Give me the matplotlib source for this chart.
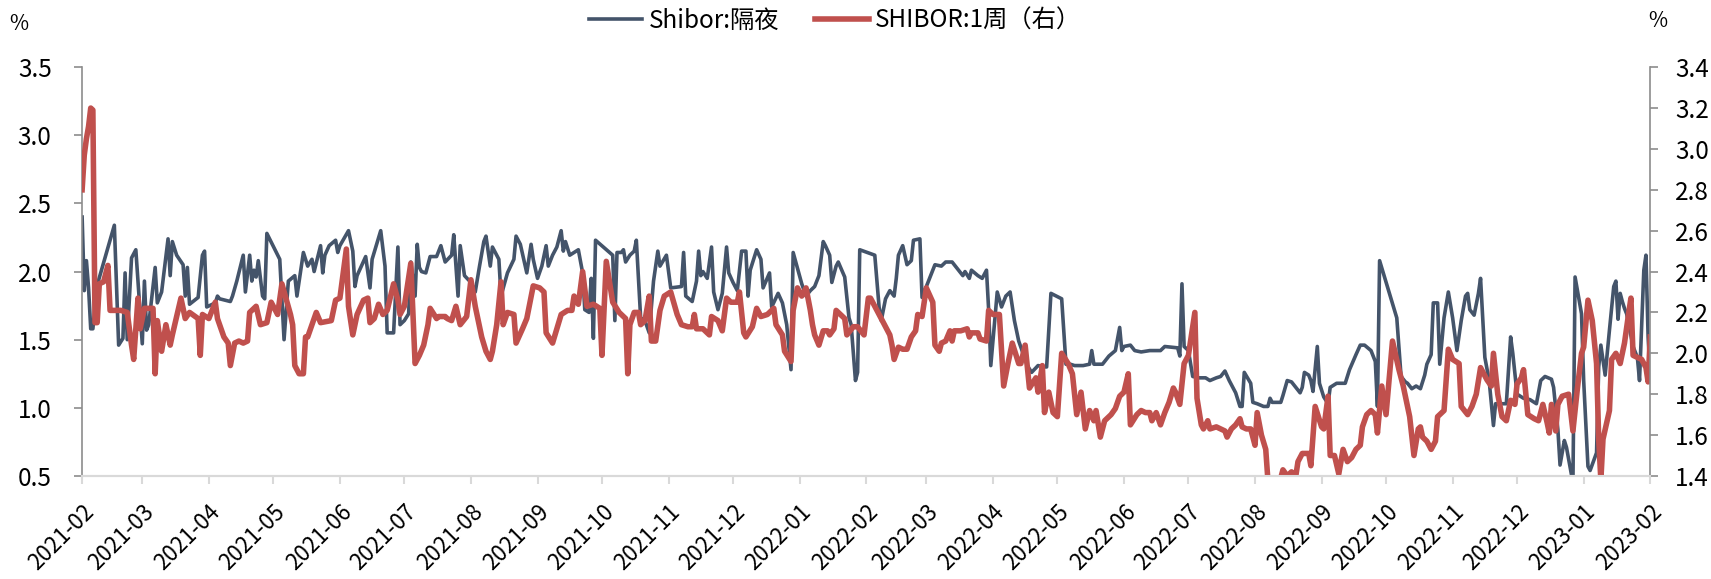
import matplotlib
matplotlib.use('Agg')
import matplotlib.pyplot as plt
import matplotlib.dates as mdates
import matplotlib.transforms as mtransforms
import pandas as pd

plt.rcParams['font.family'] = ['Noto Sans CJK SC', 'DejaVu Sans']

# Shibor overnight (left axis), %
on_dates = [
    '2021-02-01', '2021-02-02', '2021-02-03', '2021-02-04', '2021-02-05', '2021-02-06', '2021-02-08', '2021-02-16', '2021-02-18', '2021-02-20', '2021-02-21', '2021-02-22', '2021-02-24', '2021-02-26',
    '2021-03-01', '2021-03-02', '2021-03-03', '2021-03-04', '2021-03-07', '2021-03-08', '2021-03-10', '2021-03-13', '2021-03-14', '2021-03-15', '2021-03-17', '2021-03-20', '2021-03-21', '2021-03-22', '2021-03-23', '2021-03-27', '2021-03-29', '2021-03-30', '2021-03-31',
    '2021-04-04', '2021-04-05', '2021-04-06', '2021-04-11', '2021-04-12', '2021-04-14', '2021-04-17', '2021-04-18', '2021-04-20', '2021-04-21', '2021-04-22', '2021-04-23', '2021-04-24', '2021-04-26', '2021-04-27', '2021-04-28',
    '2021-05-04', '2021-05-06', '2021-05-08', '2021-05-11', '2021-05-12', '2021-05-15', '2021-05-17', '2021-05-19', '2021-05-20', '2021-05-23', '2021-05-24', '2021-05-25', '2021-05-27', '2021-05-30', '2021-05-31',
    '2021-06-01', '2021-06-05', '2021-06-07', '2021-06-08', '2021-06-09', '2021-06-13', '2021-06-15', '2021-06-16', '2021-06-20', '2021-06-22', '2021-06-23', '2021-06-26', '2021-06-28', '2021-06-29',
    '2021-07-01', '2021-07-03', '2021-07-04', '2021-07-06', '2021-07-07', '2021-07-08', '2021-07-09', '2021-07-11', '2021-07-13', '2021-07-16', '2021-07-18', '2021-07-20', '2021-07-23', '2021-07-24', '2021-07-26', '2021-07-27', '2021-07-29',
    '2021-08-01', '2021-08-03', '2021-08-05', '2021-08-07', '2021-08-08', '2021-08-10', '2021-08-11', '2021-08-14', '2021-08-15', '2021-08-18', '2021-08-21', '2021-08-22', '2021-08-24', '2021-08-27', '2021-08-29', '2021-08-30',
    '2021-09-01', '2021-09-03', '2021-09-05', '2021-09-06', '2021-09-08', '2021-09-10', '2021-09-12', '2021-09-13', '2021-09-14', '2021-09-16', '2021-09-20', '2021-09-22', '2021-09-23', '2021-09-25', '2021-09-26', '2021-09-27', '2021-09-28',
    '2021-10-06', '2021-10-07', '2021-10-08', '2021-10-10', '2021-10-11', '2021-10-12', '2021-10-14', '2021-10-16', '2021-10-17', '2021-10-19', '2021-10-21', '2021-10-23', '2021-10-25', '2021-10-27', '2021-10-28', '2021-10-31',
    '2021-11-02', '2021-11-07', '2021-11-08', '2021-11-09', '2021-11-12', '2021-11-14', '2021-11-15', '2021-11-16', '2021-11-17', '2021-11-19', '2021-11-21', '2021-11-22', '2021-11-24', '2021-11-26', '2021-11-28', '2021-11-29',
    '2021-12-01', '2021-12-03', '2021-12-05', '2021-12-07', '2021-12-08', '2021-12-09', '2021-12-12', '2021-12-14', '2021-12-15', '2021-12-18', '2021-12-19', '2021-12-22', '2021-12-24', '2021-12-26', '2021-12-28', '2021-12-29',
    '2022-01-02', '2022-01-04', '2022-01-06', '2022-01-08', '2022-01-10', '2022-01-12', '2022-01-13', '2022-01-15', '2022-01-16', '2022-01-18', '2022-01-19', '2022-01-22', '2022-01-24', '2022-01-25', '2022-01-27', '2022-01-28', '2022-01-29',
    '2022-02-05', '2022-02-07', '2022-02-08', '2022-02-10', '2022-02-12', '2022-02-14', '2022-02-15', '2022-02-16', '2022-02-18', '2022-02-20', '2022-02-22', '2022-02-23', '2022-02-26', '2022-02-27',
    '2022-03-01', '2022-03-05', '2022-03-08', '2022-03-10', '2022-03-13', '2022-03-16', '2022-03-18', '2022-03-19', '2022-03-21', '2022-03-22', '2022-03-25', '2022-03-27', '2022-03-29', '2022-03-30', '2022-03-31',
    '2022-04-01', '2022-04-03', '2022-04-05', '2022-04-07', '2022-04-09', '2022-04-11', '2022-04-13', '2022-04-17', '2022-04-19', '2022-04-22', '2022-04-25', '2022-04-26', '2022-04-28',
    '2022-05-03', '2022-05-05', '2022-05-07', '2022-05-09', '2022-05-13', '2022-05-16', '2022-05-17', '2022-05-18', '2022-05-22', '2022-05-25', '2022-05-28', '2022-05-30', '2022-05-31',
    '2022-06-01', '2022-06-04', '2022-06-06', '2022-06-09', '2022-06-13', '2022-06-18', '2022-06-20', '2022-06-26', '2022-06-27', '2022-06-28', '2022-06-29',
    '2022-07-01', '2022-07-03', '2022-07-06', '2022-07-09', '2022-07-11', '2022-07-14', '2022-07-16', '2022-07-18', '2022-07-20', '2022-07-23', '2022-07-25', '2022-07-26', '2022-07-27', '2022-07-30', '2022-07-31',
    '2022-08-02', '2022-08-05', '2022-08-07', '2022-08-08', '2022-08-09', '2022-08-13', '2022-08-14', '2022-08-16', '2022-08-18', '2022-08-20', '2022-08-22', '2022-08-23', '2022-08-24', '2022-08-26', '2022-08-27', '2022-08-28', '2022-08-30', '2022-08-31',
    '2022-09-02', '2022-09-04', '2022-09-05', '2022-09-08', '2022-09-10', '2022-09-12', '2022-09-14', '2022-09-17', '2022-09-19', '2022-09-21', '2022-09-24', '2022-09-26', '2022-09-27', '2022-09-28',
    '2022-10-06', '2022-10-08', '2022-10-10', '2022-10-11', '2022-10-13', '2022-10-15', '2022-10-17', '2022-10-19', '2022-10-20', '2022-10-22', '2022-10-23', '2022-10-25', '2022-10-26', '2022-10-28', '2022-10-30',
    '2022-11-01', '2022-11-03', '2022-11-05', '2022-11-07', '2022-11-08', '2022-11-09', '2022-11-11', '2022-11-13', '2022-11-14', '2022-11-16', '2022-11-18', '2022-11-20', '2022-11-21', '2022-11-26', '2022-11-28', '2022-11-29',
    '2022-12-01', '2022-12-04', '2022-12-07', '2022-12-10', '2022-12-12', '2022-12-14', '2022-12-17', '2022-12-18', '2022-12-20', '2022-12-21', '2022-12-23', '2022-12-24', '2022-12-27', '2022-12-28', '2022-12-31',
    '2023-01-01', '2023-01-03', '2023-01-04', '2023-01-07', '2023-01-08', '2023-01-09', '2023-01-11', '2023-01-13', '2023-01-15', '2023-01-16', '2023-01-17', '2023-01-18', '2023-01-19', '2023-01-20', '2023-01-21', '2023-01-24', '2023-01-26', '2023-01-27', '2023-01-29', '2023-01-30', '2023-01-31', '2023-02-01',
]
on_rate = [
    2.40, 1.86, 2.08, 1.88, 1.58, 1.58, 1.90, 2.34, 1.46, 1.51, 1.99, 1.50, 2.10, 2.16,
    1.47, 1.93, 1.57, 1.61, 2.03, 1.77, 1.85, 2.24, 1.97, 2.22, 2.12, 2.05, 1.82, 2.03, 1.76, 1.81, 2.12, 2.15, 1.74,
    1.77, 1.82, 1.80, 1.78, 1.82, 1.93, 2.12, 1.85, 2.12, 1.93, 2.01, 1.96, 2.08, 1.82, 1.80, 2.28,
    2.09, 1.50, 1.93, 1.97, 1.82, 2.14, 2.04, 2.09, 2.00, 2.19, 1.99, 2.12, 2.19, 2.23, 2.14,
    2.19, 2.30, 2.15, 1.89, 1.97, 2.11, 1.88, 2.09, 2.30, 2.04, 1.55, 1.55, 2.18, 1.61,
    1.64, 1.69, 2.07, 1.82, 2.20, 2.03, 2.00, 1.99, 2.11, 2.11, 2.19, 2.07, 2.12, 2.27, 1.82, 2.19, 1.97,
    1.92, 1.85, 2.04, 2.22, 2.26, 2.04, 2.18, 2.09, 1.82, 1.99, 2.09, 2.26, 2.20, 1.99, 2.20, 2.09,
    1.95, 2.04, 2.19, 2.04, 2.12, 2.18, 2.30, 2.15, 2.22, 2.12, 2.16, 1.99, 1.72, 1.70, 1.95, 1.51, 2.23,
    2.12, 1.64, 2.14, 2.14, 2.16, 2.07, 2.12, 2.15, 2.23, 1.66, 1.64, 1.55, 1.93, 2.15, 2.04, 2.12,
    1.88, 1.89, 2.14, 1.82, 1.78, 1.93, 2.15, 1.97, 2.00, 1.95, 2.18, 1.85, 1.72, 1.84, 2.18, 1.99,
    1.92, 1.86, 2.15, 2.15, 1.82, 2.01, 2.16, 2.09, 1.88, 1.99, 1.74, 1.84, 1.77, 1.61, 1.28, 2.14,
    1.91, 1.82, 1.86, 1.89, 1.97, 2.22, 2.19, 2.12, 1.92, 2.04, 2.07, 1.96, 1.66, 1.61, 1.20, 1.26, 2.16,
    2.12, 1.74, 1.64, 1.80, 1.86, 1.82, 1.95, 2.12, 2.19, 2.05, 2.08, 2.23, 2.24, 1.81,
    1.89, 2.05, 2.04, 2.07, 2.07, 2.01, 1.97, 2.00, 1.95, 2.01, 1.97, 1.95, 2.01, 1.72, 1.31,
    1.49, 1.85, 1.74, 1.82, 1.85, 1.64, 1.49, 1.31, 1.26, 1.31, 1.30, 1.30, 1.84,
    1.80, 1.32, 1.32, 1.31, 1.31, 1.32, 1.42, 1.32, 1.32, 1.38, 1.42, 1.59, 1.42,
    1.45, 1.46, 1.42, 1.41, 1.42, 1.42, 1.45, 1.44, 1.38, 1.91, 1.45,
    1.42, 1.23, 1.22, 1.22, 1.20, 1.22, 1.23, 1.27, 1.20, 1.11, 1.01, 1.01, 1.26, 1.18, 1.04,
    1.03, 1.01, 1.01, 1.07, 1.04, 1.04, 1.09, 1.20, 1.19, 1.15, 1.11, 1.15, 1.26, 1.24, 1.20, 1.12, 1.45, 1.18,
    1.08, 1.03, 1.15, 1.18, 1.18, 1.18, 1.28, 1.39, 1.46, 1.46, 1.42, 1.34, 1.01, 2.08,
    1.66, 1.23, 1.19, 1.18, 1.14, 1.16, 1.14, 1.24, 1.32, 1.39, 1.77, 1.77, 1.32, 1.66, 1.85,
    1.66, 1.42, 1.64, 1.82, 1.84, 1.72, 1.68, 1.84, 1.95, 1.37, 1.20, 0.87, 1.03, 1.03, 1.52, 1.40,
    1.10, 1.07, 1.06, 1.03, 1.20, 1.23, 1.21, 1.15, 0.84, 0.58, 0.76, 0.71, 0.45, 1.96, 1.69,
    1.20, 0.57, 0.54, 0.67, 1.30, 1.46, 1.24, 1.57, 1.89, 1.93, 1.65, 1.84, 1.78, 1.73, 1.69, 1.45, 1.37, 1.20, 2.01, 2.12, 1.52, 1.22,
]

# SHIBOR 1 week (right axis), %
w1_dates = [
    '2021-02-01', '2021-02-02', '2021-02-03', '2021-02-04', '2021-02-05', '2021-02-06', '2021-02-07', '2021-02-08', '2021-02-09', '2021-02-11', '2021-02-13', '2021-02-14', '2021-02-19', '2021-02-22', '2021-02-24', '2021-02-25', '2021-02-27', '2021-02-28',
    '2021-03-02', '2021-03-05', '2021-03-06', '2021-03-07', '2021-03-08', '2021-03-10', '2021-03-12', '2021-03-14', '2021-03-15', '2021-03-19', '2021-03-21', '2021-03-23', '2021-03-27', '2021-03-28', '2021-03-29',
    '2021-04-01', '2021-04-04', '2021-04-05', '2021-04-08', '2021-04-10', '2021-04-11', '2021-04-13', '2021-04-15', '2021-04-17', '2021-04-19', '2021-04-20', '2021-04-23', '2021-04-25', '2021-04-28', '2021-04-30',
    '2021-05-03', '2021-05-05', '2021-05-09', '2021-05-10', '2021-05-11', '2021-05-13', '2021-05-15', '2021-05-16', '2021-05-17', '2021-05-19', '2021-05-21', '2021-05-23', '2021-05-28', '2021-05-30',
    '2021-06-01', '2021-06-04', '2021-06-05', '2021-06-07', '2021-06-09', '2021-06-12', '2021-06-14', '2021-06-15', '2021-06-17', '2021-06-19', '2021-06-21', '2021-06-23', '2021-06-26', '2021-06-28', '2021-06-29',
    '2021-07-01', '2021-07-04', '2021-07-06', '2021-07-08', '2021-07-10', '2021-07-12', '2021-07-13', '2021-07-16', '2021-07-17', '2021-07-20', '2021-07-21', '2021-07-23', '2021-07-25', '2021-07-27', '2021-07-30',
    '2021-08-01', '2021-08-03', '2021-08-06', '2021-08-08', '2021-08-10', '2021-08-11', '2021-08-13', '2021-08-15', '2021-08-16', '2021-08-18', '2021-08-21', '2021-08-22', '2021-08-25', '2021-08-27', '2021-08-30',
    '2021-09-02', '2021-09-04', '2021-09-05', '2021-09-08', '2021-09-10', '2021-09-12', '2021-09-15', '2021-09-17', '2021-09-18', '2021-09-20', '2021-09-22', '2021-09-24', '2021-09-27', '2021-09-30',
    '2021-10-01', '2021-10-03', '2021-10-06', '2021-10-09', '2021-10-12', '2021-10-13', '2021-10-14', '2021-10-16', '2021-10-18', '2021-10-19', '2021-10-21', '2021-10-23', '2021-10-24', '2021-10-26', '2021-10-28', '2021-10-30',
    '2021-11-02', '2021-11-05', '2021-11-07', '2021-11-10', '2021-11-12', '2021-11-13', '2021-11-14', '2021-11-17', '2021-11-19', '2021-11-20', '2021-11-21', '2021-11-24', '2021-11-26', '2021-11-28', '2021-11-30',
    '2021-12-03', '2021-12-04', '2021-12-06', '2021-12-07', '2021-12-10', '2021-12-12', '2021-12-14', '2021-12-17', '2021-12-20', '2021-12-21', '2021-12-24', '2021-12-25', '2021-12-28', '2021-12-29', '2021-12-31',
    '2022-01-02', '2022-01-04', '2022-01-06', '2022-01-07', '2022-01-08', '2022-01-10', '2022-01-12', '2022-01-14', '2022-01-15', '2022-01-17', '2022-01-18', '2022-01-19', '2022-01-22', '2022-01-23', '2022-01-26', '2022-01-28', '2022-01-31',
    '2022-02-02', '2022-02-03', '2022-02-07', '2022-02-09', '2022-02-12', '2022-02-13', '2022-02-14', '2022-02-16', '2022-02-18', '2022-02-20', '2022-02-22', '2022-02-24', '2022-02-25', '2022-02-27',
    '2022-03-01', '2022-03-04', '2022-03-05', '2022-03-07', '2022-03-08', '2022-03-10', '2022-03-12', '2022-03-13', '2022-03-14', '2022-03-17', '2022-03-20', '2022-03-21', '2022-03-22', '2022-03-25', '2022-03-26', '2022-03-29', '2022-03-30',
    '2022-04-01', '2022-04-04', '2022-04-06', '2022-04-08', '2022-04-10', '2022-04-13', '2022-04-14', '2022-04-16', '2022-04-18', '2022-04-21', '2022-04-22', '2022-04-24', '2022-04-25', '2022-04-27', '2022-04-29',
    '2022-05-01', '2022-05-03', '2022-05-06', '2022-05-08', '2022-05-10', '2022-05-12', '2022-05-14', '2022-05-16', '2022-05-18', '2022-05-19', '2022-05-21', '2022-05-23', '2022-05-26', '2022-05-28', '2022-05-30',
    '2022-06-01', '2022-06-03', '2022-06-04', '2022-06-07', '2022-06-09', '2022-06-11', '2022-06-13', '2022-06-14', '2022-06-16', '2022-06-18', '2022-06-20', '2022-06-22', '2022-06-24', '2022-06-25', '2022-06-27', '2022-06-29',
    '2022-07-01', '2022-07-04', '2022-07-05', '2022-07-07', '2022-07-08', '2022-07-10', '2022-07-11', '2022-07-14', '2022-07-16', '2022-07-18', '2022-07-19', '2022-07-21', '2022-07-23', '2022-07-25', '2022-07-26', '2022-07-28', '2022-07-30',
    '2022-08-01', '2022-08-02', '2022-08-04', '2022-08-06', '2022-08-07', '2022-08-10', '2022-08-13', '2022-08-14', '2022-08-16', '2022-08-18', '2022-08-20', '2022-08-21', '2022-08-23', '2022-08-26', '2022-08-27', '2022-08-29',
    '2022-09-01', '2022-09-02', '2022-09-04', '2022-09-05', '2022-09-07', '2022-09-09', '2022-09-11', '2022-09-13', '2022-09-15', '2022-09-17', '2022-09-19', '2022-09-20', '2022-09-22', '2022-09-24', '2022-09-26', '2022-09-27', '2022-09-29',
    '2022-10-01', '2022-10-04', '2022-10-07', '2022-10-09', '2022-10-12', '2022-10-14', '2022-10-16', '2022-10-17', '2022-10-18', '2022-10-20', '2022-10-22', '2022-10-24', '2022-10-25', '2022-10-28', '2022-10-30',
    '2022-11-01', '2022-11-04', '2022-11-05', '2022-11-08', '2022-11-10', '2022-11-12', '2022-11-14', '2022-11-17', '2022-11-19', '2022-11-20', '2022-11-22', '2022-11-24', '2022-11-26', '2022-11-28', '2022-11-30',
    '2022-12-01', '2022-12-03', '2022-12-04', '2022-12-06', '2022-12-09', '2022-12-11', '2022-12-13', '2022-12-15', '2022-12-16', '2022-12-17', '2022-12-19', '2022-12-20', '2022-12-22', '2022-12-25', '2022-12-27', '2022-12-29', '2022-12-31',
    '2023-01-01', '2023-01-03', '2023-01-05', '2023-01-07', '2023-01-08', '2023-01-09', '2023-01-10', '2023-01-13', '2023-01-14', '2023-01-16', '2023-01-18', '2023-01-20', '2023-01-22', '2023-01-23', '2023-01-24', '2023-01-28', '2023-01-30', '2023-01-31', '2023-02-01',
]
w1_rate = [
    2.80, 2.97, 3.05, 3.11, 3.20, 3.19, 2.15, 2.15, 2.34, 2.35, 2.43, 2.21, 2.21, 2.20, 2.04, 1.97, 2.27, 2.12,
    2.22, 2.22, 2.22, 1.90, 2.16, 2.01, 2.14, 2.04, 2.09, 2.27, 2.17, 2.20, 2.17, 1.99, 2.19,
    2.17, 2.25, 2.17, 2.08, 2.05, 1.94, 2.05, 2.06, 2.05, 2.06, 2.20, 2.23, 2.14, 2.15, 2.25,
    2.19, 2.34, 2.19, 2.14, 1.94, 1.90, 1.90, 2.08, 2.08, 2.14, 2.20, 2.15, 2.16, 2.26,
    2.27, 2.51, 2.23, 2.09, 2.19, 2.26, 2.27, 2.15, 2.17, 2.24, 2.19, 2.21, 2.34, 2.26, 2.19,
    2.23, 2.44, 1.95, 1.99, 2.04, 2.14, 2.22, 2.17, 2.18, 2.18, 2.17, 2.16, 2.23, 2.14, 2.18,
    2.36, 2.23, 2.08, 2.01, 1.97, 2.01, 2.14, 2.35, 2.14, 2.20, 2.19, 2.05, 2.12, 2.17, 2.33,
    2.32, 2.30, 2.10, 2.05, 2.12, 2.19, 2.21, 2.21, 2.28, 2.24, 2.40, 2.23, 2.24, 2.22,
    1.99, 2.45, 2.25, 2.20, 2.17, 1.90, 2.14, 2.20, 2.20, 2.14, 2.16, 2.28, 2.06, 2.06, 2.21, 2.28,
    2.30, 2.19, 2.14, 2.13, 2.13, 2.19, 2.12, 2.12, 2.10, 2.09, 2.18, 2.16, 2.11, 2.27, 2.25,
    2.25, 2.30, 2.10, 2.08, 2.13, 2.22, 2.18, 2.19, 2.22, 2.14, 2.09, 2.01, 1.96, 2.21, 2.32,
    2.28, 2.32, 2.21, 2.14, 2.09, 2.04, 2.11, 2.11, 2.09, 2.12, 2.21, 2.20, 2.17, 2.09, 2.13, 2.13, 2.09,
    2.27, 2.27, 2.19, 2.15, 2.09, 2.04, 1.97, 2.03, 2.02, 2.02, 2.08, 2.11, 2.19, 2.18,
    2.32, 2.25, 2.04, 2.01, 2.05, 2.06, 2.11, 2.06, 2.11, 2.11, 2.12, 2.08, 2.10, 2.10, 2.07, 2.06, 2.21,
    2.19, 2.19, 1.84, 1.95, 2.05, 1.95, 1.95, 2.04, 1.83, 1.88, 1.81, 1.94, 1.71, 1.81, 1.71,
    1.69, 2.00, 1.95, 1.90, 1.70, 1.81, 1.63, 1.72, 1.67, 1.72, 1.59, 1.67, 1.70, 1.73, 1.79,
    1.81, 1.90, 1.65, 1.70, 1.72, 1.71, 1.71, 1.67, 1.71, 1.65, 1.71, 1.76, 1.83, 1.81, 1.75, 1.95,
    1.99, 2.20, 1.78, 1.65, 1.63, 1.67, 1.63, 1.64, 1.63, 1.62, 1.59, 1.63, 1.65, 1.68, 1.64, 1.63, 1.63,
    1.55, 1.71, 1.60, 1.53, 1.38, 1.38, 1.39, 1.43, 1.40, 1.42, 1.40, 1.47, 1.51, 1.51, 1.45, 1.74,
    1.64, 1.63, 1.79, 1.50, 1.50, 1.41, 1.53, 1.47, 1.49, 1.53, 1.55, 1.64, 1.70, 1.72, 1.70, 1.61, 1.84,
    1.70, 2.06, 1.92, 1.84, 1.69, 1.50, 1.63, 1.64, 1.59, 1.57, 1.53, 1.57, 1.69, 1.72, 2.02,
    1.97, 1.95, 1.74, 1.70, 1.74, 1.80, 1.93, 1.87, 1.84, 2.00, 1.80, 1.69, 1.67, 1.77, 1.75,
    1.85, 1.88, 1.92, 1.70, 1.68, 1.67, 1.75, 1.66, 1.61, 1.75, 1.62, 1.75, 1.79, 1.80, 1.62, 1.82, 2.00,
    2.03, 2.26, 2.16, 1.95, 1.58, 1.38, 1.58, 1.72, 1.97, 2.00, 1.95, 2.05, 2.20, 2.27, 1.99, 1.97, 1.93, 1.86, 2.08,
]

month_ticks = pd.date_range('2021-02-01', '2023-02-01', freq='MS')

blue = '#44546A'
red = '#C0504D'
fs = 17.5

fig = plt.figure(figsize=(17.11, 5.79), dpi=100)
ax = fig.add_axes([0.048, 0.178, 0.9165, 0.706])
ax2 = ax.twinx()

l1, = ax.plot(pd.to_datetime(on_dates), on_rate, color=blue, linewidth=2.6, label='Shibor:隔夜')
l2, = ax2.plot(pd.to_datetime(w1_dates), w1_rate, color=red, linewidth=4.0, label='SHIBOR:1周（右）')

ax.set_xlim(pd.Timestamp('2021-02-01'), pd.Timestamp('2023-02-01'))
ax.set_ylim(0.5, 3.5)
ax.set_yticks([0.5, 1.0, 1.5, 2.0, 2.5, 3.0, 3.5])
ax.yaxis.set_major_formatter(matplotlib.ticker.FormatStrFormatter('%.1f'))
ax2.set_ylim(1.4, 3.4)
ax2.set_yticks([1.4, 1.6, 1.8, 2.0, 2.2, 2.4, 2.6, 2.8, 3.0, 3.2, 3.4])
ax2.yaxis.set_major_formatter(matplotlib.ticker.FormatStrFormatter('%.1f'))

ax.set_xticks(month_ticks)
ax.xaxis.set_major_formatter(mdates.DateFormatter('%Y-%m'))
shift = mtransforms.ScaledTranslation(4 / 100, 0, fig.dpi_scale_trans)
for lab in ax.get_xticklabels():
    lab.set_rotation(45)
    lab.set_ha('right')
    lab.set_rotation_mode('anchor')
    lab.set_transform(lab.get_transform() + shift)

spine_gray = '#8C8C8C'
for a in (ax, ax2):
    a.spines['top'].set_visible(False)
    a.spines['bottom'].set_color('#D9D9D9')
    a.spines['bottom'].set_linewidth(1.5)
ax.spines['right'].set_visible(False)
ax2.spines['left'].set_visible(False)
ax.spines['left'].set_color(spine_gray)
ax2.spines['right'].set_color(spine_gray)
ax.spines['left'].set_linewidth(1.2)
ax2.spines['right'].set_linewidth(1.2)

ax.tick_params(axis='y', direction='out', length=6, width=1.2, color=spine_gray, labelsize=fs, pad=16)
ax2.tick_params(axis='y', direction='out', length=6, width=1.2, color=spine_gray, labelsize=fs, pad=12)
ax.tick_params(axis='x', direction='out', length=6, width=1.5, color='#D9D9D9', labelsize=16, pad=11.5)

fig.text(19 / 1711, 1 - 24 / 579, '%', fontsize=15, ha='center', va='center')
fig.text(1658 / 1711, 1 - 21 / 579, '%', fontsize=15, ha='center', va='center')

fig.legend(handles=[l1, l2], loc='center', bbox_to_anchor=(835 / 1711, 1 - 21 / 579),
           ncol=2, frameon=False, fontsize=fs, handlelength=2.2, handletextpad=0.25,
           columnspacing=1.5)

fig.savefig('out.png', dpi=100)
